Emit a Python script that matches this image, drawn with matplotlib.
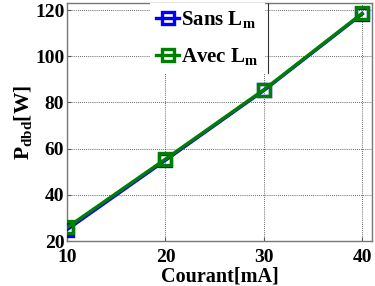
import matplotlib
matplotlib.use("Agg")
import matplotlib.pyplot as plt
from matplotlib.lines import Line2D

courant = [10, 20, 30, 40]
sans_lm = [25.0, 55.0, 85.2, 118.3]
avec_lm = [25.9, 55.5, 85.5, 118.6]
labels = [r'Sans $\mathrm{L_m}$', r'Avec $\mathrm{L_m}$']

plt.rcParams['font.family'] = 'Liberation Serif'
plt.rcParams['font.weight'] = 'bold'
plt.rcParams['mathtext.fontset'] = 'custom'
plt.rcParams['mathtext.rm'] = 'Liberation Serif:bold'
plt.rcParams['mathtext.it'] = 'Liberation Serif:bold'
plt.rcParams['mathtext.bf'] = 'Liberation Serif:bold'

fig = plt.figure(figsize=(3.75, 2.86), dpi=100)
ax = fig.add_axes([0.179, 0.157, 0.813, 0.832])

ax.plot(courant, sans_lm, color=(0, 0, 1), lw=2.4, marker='s', ms=9,
        mfc='none', mew=2.4, label=labels[0], zorder=3)
ax.plot(courant, avec_lm, color=(0, 0.5, 0), lw=2.4, marker='s', ms=9,
        mfc='none', mew=2.4, label=labels[1], zorder=4)

ax.set_xlim(10, 41)
ax.set_ylim(20, 123)
ax.set_xticks([10, 20, 30, 40])
ax.set_yticks([20, 40, 60, 80, 100, 120])
ax.grid(True, linestyle=(0, (1, 1.5)), color='#333333', lw=0.6)
ax.tick_params(direction='in', labelsize=14, length=3, color='#555555')
ax.tick_params(axis='x', pad=6)
ax.tick_params(axis='y', pad=2)
for lab in ax.get_xticklabels() + ax.get_yticklabels():
    lab.set_fontweight('bold')
for s in ax.spines.values():
    s.set_color('#777777')
    s.set_linewidth(1.0)
ax.set_xlabel('Courant[mA]', fontsize=14.5, fontweight='bold', labelpad=0)
ax.set_ylabel(r'$\mathrm{P_{dbd}}$[W]', fontsize=15.5, fontweight='bold', labelpad=1)

leg = ax.legend(loc='upper left', bbox_to_anchor=(0.272, 1.0), frameon=True,
                fontsize=15, handlelength=1.1, handletextpad=0.1,
                labelspacing=0.75, borderpad=0.3, borderaxespad=0.0,
                fancybox=False)
leg.get_frame().set_facecolor('white')
leg.get_frame().set_edgecolor('none')
leg.get_frame().set_alpha(1.0)
ax.add_line(Line2D([0.66, 0.66], [0.706, 1.0], transform=ax.transAxes,
                   color='#333333', lw=0.8, zorder=10))

fig.savefig('out.png', dpi=100)
